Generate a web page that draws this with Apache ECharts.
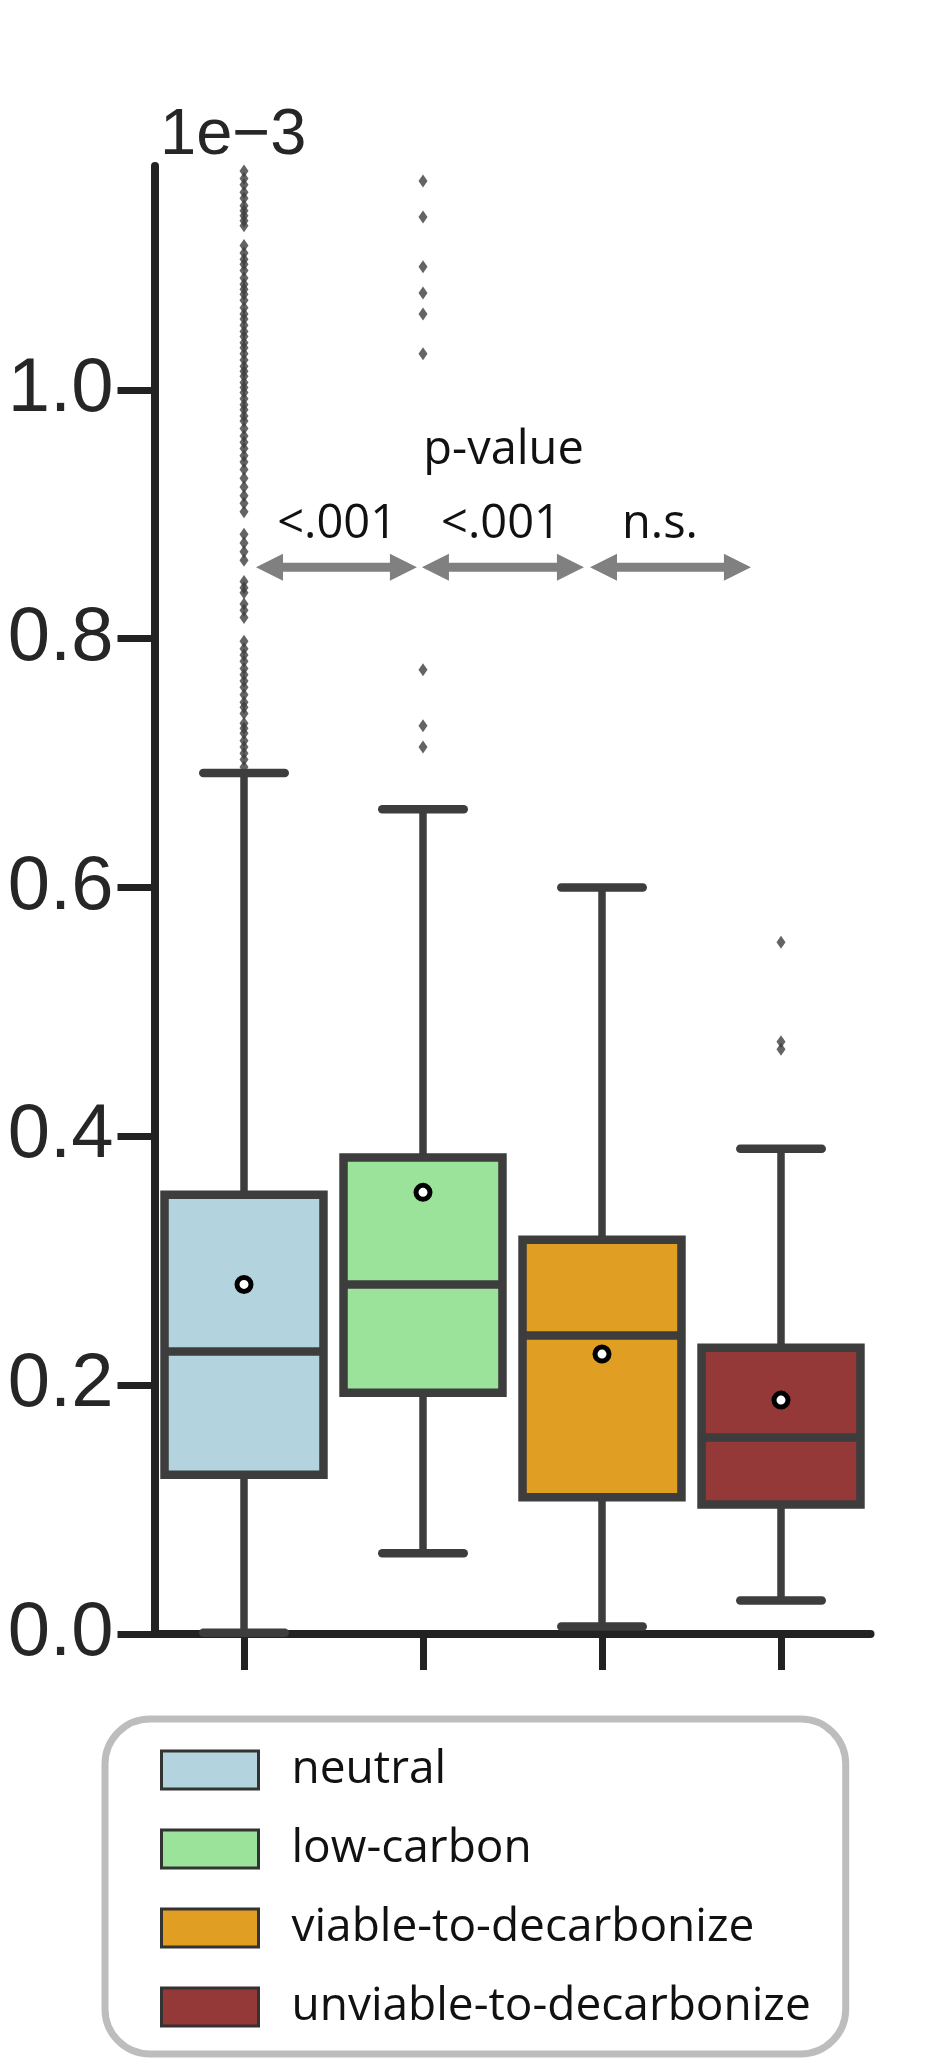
<!DOCTYPE html>
<html>
<head>
<meta charset="utf-8">
<script src="https://cdn.jsdelivr.net/npm/echarts@6/dist/echarts.min.js"></script>
<style>
html,body{margin:0;padding:0;background:#fff;}
#chart{width:935px;height:2064px;}
</style>
</head>
<body>
<div id="chart"></div>
<script>
// ---- data (values in units of 1e-3) ----
const categories = ['neutral', 'low-carbon', 'viable-to-decarbonize', 'unviable-to-decarbonize'];
const whiskerLow  = [0.001, 0.065, 0.006, 0.027];
const q1          = [0.128, 0.194, 0.110, 0.104];
const median      = [0.227, 0.281, 0.240, 0.158];
const q3          = [0.353, 0.383, 0.317, 0.230];
const whiskerHigh = [0.692, 0.663, 0.600, 0.390];
const means       = [0.281, 0.355, 0.225, 0.188];

const neutralOutliers = [
  1.176, 1.170, 1.165, 1.159, 1.154, 1.148, 1.144, 1.140, 1.136, 1.132,
  1.116, 1.110, 1.105, 1.101, 1.096, 1.090, 1.085, 1.081, 1.077, 1.072,
  1.066, 1.061, 1.057, 1.052, 1.047, 1.043, 1.038, 1.034, 1.029, 1.024,
  1.019, 1.015, 1.011, 1.006, 1.002, 0.998, 0.993, 0.988, 0.984, 0.979,
  0.975, 0.969, 0.963, 0.958, 0.953, 0.947, 0.942, 0.936, 0.929, 0.922,
  0.915, 0.909, 0.902, 0.884, 0.877, 0.870, 0.863, 0.846, 0.841, 0.837,
  0.828, 0.823, 0.817, 0.798, 0.792, 0.787, 0.782, 0.776, 0.771, 0.766,
  0.761, 0.755, 0.749, 0.745, 0.740, 0.732, 0.728, 0.724, 0.718, 0.713,
  0.708, 0.703, 0.697
];
const lowCarbonOutliers = [1.168, 1.139, 1.099, 1.078, 1.061, 1.029, 0.775, 0.730, 0.713];
const viableOutliers = [];
const unviableOutliers = [0.556, 0.476, 0.470];

const yTicks = [0, 0.2, 0.4, 0.6, 0.8, 1.0];
const axisUnit = '1e\u22123';

// p-value annotation (between neighbouring groups)
const pTitle = 'p-value';
const pLabels = ['<.001', '<.001', 'n.s.'];
const pLabelX = [0.52, 1.436, 2.324];
const arrowFrom = [0.067, 0.994, 1.933];
const arrowTo = [0.966, 1.899, 2.832];

// ---- style ----
const fills = ['#b3d4df', '#9be29b', '#e09e22', '#943838'];
const edge = '#3d3d3d';
const annoFont = '"Open Sans", "Noto Sans", sans-serif';

function makeBoxRender(fill) {
  return function (params, api) {
    const x = api.value(0);
    const pLow = api.coord([x, api.value(1)]);
    const yQ1 = api.coord([x, api.value(2)])[1];
    const yMed = api.coord([x, api.value(3)])[1];
    const yQ3 = api.coord([x, api.value(4)])[1];
    const yHigh = api.coord([x, api.value(5)])[1];
    const yMean = api.coord([x, api.value(6)])[1];
    const cx = pLow[0], yLow = pLow[1];
    const band = api.size([1, 0])[0];
    const bw = band * 0.888;
    const cw = band * 0.455;
    const ls = {stroke: edge, lineWidth: 7.5};
    const cap = {stroke: edge, lineWidth: 8.5, lineCap: 'round'};
    return {
      type: 'group',
      children: [
        {type: 'line', shape: {x1: cx, y1: yLow, x2: cx, y2: yQ1}, style: ls},
        {type: 'line', shape: {x1: cx, y1: yQ3, x2: cx, y2: yHigh}, style: ls},
        {type: 'line', shape: {x1: cx - cw / 2, y1: yLow, x2: cx + cw / 2, y2: yLow}, style: cap},
        {type: 'line', shape: {x1: cx - cw / 2, y1: yHigh, x2: cx + cw / 2, y2: yHigh}, style: cap},
        {type: 'rect', shape: {x: cx - bw / 2, y: yQ3, width: bw, height: yQ1 - yQ3},
          style: {fill: fill, stroke: edge, lineWidth: 8.5}},
        {type: 'line', shape: {x1: cx - bw / 2, y1: yMed, x2: cx + bw / 2, y2: yMed},
          style: {stroke: edge, lineWidth: 8.5}},
        {type: 'circle', shape: {cx: cx, cy: yMean, r: 7},
          style: {fill: '#ffffff', stroke: '#000000', lineWidth: 5}}
      ]
    };
  };
}

function renderArrow(params, api) {
  const a = api.coord([api.value(0), api.value(2)]);
  const b = api.coord([api.value(1), api.value(2)]);
  const y = a[1], x1 = a[0], x2 = b[0];
  const hl = 27, hh = 13.5, st = 4.5;
  const pts = [
    [x1, y], [x1 + hl, y - hh], [x1 + hl, y - st], [x2 - hl, y - st], [x2 - hl, y - hh],
    [x2, y], [x2 - hl, y + hh], [x2 - hl, y + st], [x1 + hl, y + st], [x1 + hl, y + hh]
  ];
  return {type: 'polygon', shape: {points: pts}, style: {fill: '#808080'}};
}

function renderText(params, api) {
  const p = api.coord([api.value(0), api.value(1)]);
  return {
    type: 'text', x: p[0], y: p[1],
    style: {text: api.value(2), fill: '#111', font: '47px ' + annoFont,
      textAlign: 'center', textVerticalAlign: 'middle'}
  };
}

const series = [];
categories.forEach(function (c, i) {
  series.push({
    type: 'custom', name: c, xAxisIndex: 0, yAxisIndex: 0, z: 3,
    renderItem: makeBoxRender(fills[i]),
    itemStyle: {color: fills[i]},
    encode: {x: 0, y: [1, 2, 3, 4, 5, 6]},
    data: [[i, whiskerLow[i], q1[i], median[i], q3[i], whiskerHigh[i], means[i]]],
    silent: true
  });
});

const outlierData = []
  .concat(neutralOutliers.map(v => [0, v]))
  .concat(lowCarbonOutliers.map(v => [1, v]))
  .concat(viableOutliers.map(v => [2, v]))
  .concat(unviableOutliers.map(v => [3, v]));

series.push({
  type: 'scatter', name: 'outliers', xAxisIndex: 0, yAxisIndex: 0, z: 4,
  symbol: 'diamond', symbolSize: [9, 13],
  itemStyle: {color: '#3d3d3d'},
  data: outlierData, silent: true
});

series.push({
  type: 'custom', name: 'arrows', xAxisIndex: 1, yAxisIndex: 0, z: 5,
  renderItem: renderArrow,
  data: arrowFrom.map((f, i) => [f, arrowTo[i], 0.8575]),
  silent: true
});

const textData = pLabels.map((t, i) => [pLabelX[i], 0.892, t]);
textData.push([1.45, 0.951, pTitle]);
series.push({
  type: 'custom', name: 'ptext', xAxisIndex: 1, yAxisIndex: 0, z: 5,
  renderItem: renderText,
  dimensions: ['x', 'y', {name: 't', type: 'ordinal'}],
  data: textData,
  silent: true
});

const chart = echarts.init(document.getElementById('chart'), null, {renderer: 'canvas'});
chart.setOption({
  animation: false,
  backgroundColor: '#ffffff',
  grid: {left: 154.5, right: 64.5, top: 166, bottom: 430, containLabel: false},
  xAxis: [
    {
      type: 'category', data: categories, boundaryGap: true,
      axisLine: {show: true, onZero: false, lineStyle: {color: '#222', width: 8}},
      axisTick: {show: true, alignWithLabel: true, length: 36, lineStyle: {color: '#222', width: 7}},
      axisLabel: {show: false},
      splitLine: {show: false}
    },
    {
      type: 'value', min: -0.5, max: 3.5, show: false, gridIndex: 0,
      axisLine: {onZero: false}
    }
  ],
  yAxis: {
    type: 'value', min: 0, max: 1.18, interval: 0.2,
    axisLine: {show: true, onZero: false, lineStyle: {color: '#222', width: 8}},
    axisTick: {show: true, length: 37, lineStyle: {color: '#222', width: 7}, customValues: yTicks},
    axisLabel: {
      customValues: yTicks,
      formatter: function (v) { return Number(v).toFixed(1); },
      fontSize: 76, fontFamily: '"Liberation Sans", Arial, sans-serif', color: '#262626', margin: 41
    },
    splitLine: {show: false}
  },
  legend: {
    orient: 'vertical', left: 105, top: 1719,
    padding: [28, 35, 24, 55],
    itemWidth: 97, itemHeight: 38, itemGap: 33,
    icon: 'rect', selectedMode: false,
    backgroundColor: '#ffffff', borderColor: '#bdbdbd', borderWidth: 7, borderRadius: 45,
    textStyle: {fontFamily: annoFont, fontSize: 46, lineHeight: 46, color: '#111', padding: [0, 0, 0, 28]},
    data: categories.map((c, i) => ({
      name: c,
      itemStyle: {color: fills[i], borderColor: '#333', borderWidth: 3}
    }))
  },
  graphic: [{
    type: 'text', left: 160, top: 104,
    style: {text: axisUnit, font: '65px "Liberation Sans", Arial, sans-serif', fill: '#262626'}
  }],
  series: series
});
</script>
</body>
</html>
